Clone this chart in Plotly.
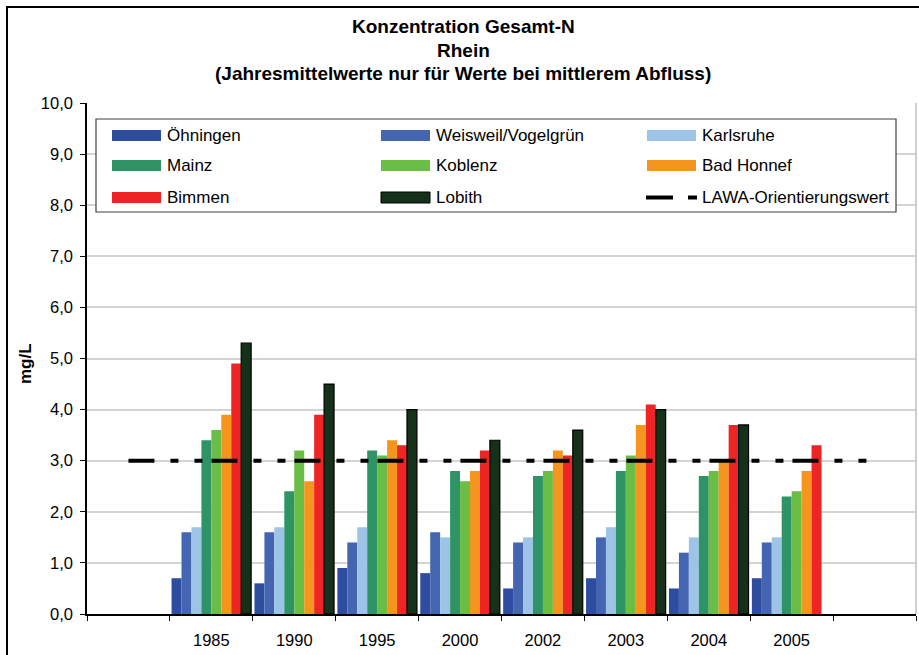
import plotly.graph_objects as go

categories = ["\u200b", "1985", "1990", "1995", "2000", "2002", "2003", "2004", "2005", "\u200b\u200b"]
years = ["1985", "1990", "1995", "2000", "2002", "2003", "2004", "2005"]

oehningen = [0.7, 0.6, 0.9, 0.8, 0.5, 0.7, 0.5, 0.7]
weisweil = [1.6, 1.6, 1.4, 1.6, 1.4, 1.5, 1.2, 1.4]
karlsruhe = [1.7, 1.7, 1.7, 1.5, 1.5, 1.7, 1.5, 1.5]
mainz = [3.4, 2.4, 3.2, 2.8, 2.7, 2.8, 2.7, 2.3]
koblenz = [3.6, 3.2, 3.1, 2.6, 2.8, 3.1, 2.8, 2.4]
bad_honnef = [3.9, 2.6, 3.4, 2.8, 3.2, 3.7, 3.0, 2.8]
bimmen = [4.9, 3.9, 3.3, 3.2, 3.1, 4.1, 3.7, 3.3]
lobith = [5.3, 4.5, 4.0, 3.4, 3.6, 4.0, 3.7, None]
lawa = [3.0] * len(categories)

series_names = ["Öhningen", "Weisweil/Vogelgrün", "Karlsruhe", "Mainz", "Koblenz",
                "Bad Honnef", "Bimmen", "Lobith"]
series_values = [oehningen, weisweil, karlsruhe, mainz, koblenz, bad_honnef, bimmen, lobith]
series_colors = ["#2E4DA0", "#4466B0", "#9DC3E6", "#2E9466", "#6ABD45",
                 "#F4961E", "#EE2524", "#15311A"]
lawa_name = "LAWA-Orientierungswert"

FONT = "Arial, Liberation Sans, sans-serif"
W, H = 919, 655
L, R, T, B = 87, 3, 103, 41
PW, PH = W - L - R, H - T - B


def px(x):
    return (x - L) / PW


def py(y):
    return (H - B - y) / PH


fig = go.Figure()
for name, vals, col in zip(series_names, series_values, series_colors):
    fig.add_trace(go.Bar(
        x=years, y=vals, name=name, marker_color=col,
        marker_line_color="#000000" if name == "Lobith" else col,
        marker_line_width=1.2 if name == "Lobith" else 0,
        showlegend=False,
    ))

fig.add_trace(go.Scatter(
    x=categories, y=lawa, mode="lines", name=lawa_name,
    line=dict(color="black", width=4, dash="26px,16px,8px,16px,8px,9px"),
    showlegend=False,
))

shapes = []
annotations = []

# outer frame
shapes.append(dict(type="rect", xref="paper", yref="paper",
                   x0=px(7), x1=px(940), y0=py(680), y1=py(7),
                   line=dict(color="black", width=2), fillcolor="rgba(0,0,0,0)", layer="above"))
# right plot border
shapes.append(dict(type="line", xref="paper", yref="paper", x0=1, x1=1, y0=0, y1=1,
                   line=dict(color="#BFBFBF", width=1.5)))

# legend box
shapes.append(dict(type="rect", xref="paper", yref="paper",
                   x0=px(96), x1=px(896), y0=py(212), y1=py(119),
                   line=dict(color="#404040", width=1.2), fillcolor="white", layer="above"))

col_sym_x = [112, 381, 647]
col_txt_x = [165, 434, 700]
row_y = [135.5, 165.5, 197.5]
legend_items = list(zip(series_names, series_colors)) + [(lawa_name, None)]
for i, (name, col) in enumerate(legend_items):
    r, c = divmod(i, 3)
    xs, yc = col_sym_x[c], row_y[r]
    if col is not None:
        shapes.append(dict(type="rect", xref="paper", yref="paper",
                           x0=px(xs), x1=px(xs + 49), y0=py(yc + 5.5), y1=py(yc - 5.5),
                           fillcolor=col,
                           line=dict(color="#000000" if name == "Lobith" else col,
                                     width=1 if name == "Lobith" else 0),
                           layer="above"))
    else:
        shapes.append(dict(type="line", xref="paper", yref="paper",
                           x0=px(xs - 1), x1=px(xs + 26), y0=py(yc), y1=py(yc),
                           line=dict(color="black", width=4), layer="above"))
        shapes.append(dict(type="line", xref="paper", yref="paper",
                           x0=px(xs + 41), x1=px(xs + 50), y0=py(yc), y1=py(yc),
                           line=dict(color="black", width=4), layer="above"))
    annotations.append(dict(text=name, xref="paper", yref="paper",
                            x=px(col_txt_x[c]), y=py(yc), xanchor="left", yanchor="middle",
                            showarrow=False, font=dict(family=FONT, size=17, color="black")))

# title lines
for txt, yy in [("Konzentration Gesamt-N", 26), ("Rhein", 50),
                ("(Jahresmittelwerte nur für Werte bei mittlerem Abfluss)", 73.5)]:
    annotations.append(dict(text="<b>" + txt + "</b>", xref="paper", yref="paper",
                            x=px(463), y=py(yy), xanchor="center", yanchor="middle",
                            showarrow=False, font=dict(family=FONT, size=19, color="black")))

# y axis title
annotations.append(dict(text="<b>mg/L</b>", xref="paper", yref="paper",
                        x=px(25), y=py(363), xanchor="center", yanchor="middle",
                        textangle=-90, showarrow=False,
                        font=dict(family=FONT, size=17, color="black")))

fig.update_layout(
    width=W, height=H,
    margin=dict(l=L, r=R, t=T, b=B, pad=0),
    paper_bgcolor="white", plot_bgcolor="white",
    barmode="group", bargap=0.04, bargroupgap=0,
    separators=",.",
    shapes=shapes, annotations=annotations,
    showlegend=False,
    font=dict(family=FONT, size=16.5, color="black"),
)
fig.update_xaxes(
    type="category", categoryorder="array", categoryarray=categories,
    range=[-0.5, len(categories) - 0.5],
    tickson="boundaries", ticks="outside", ticklen=5, tickcolor="black", tickwidth=1.2,
    showline=True, linecolor="black", linewidth=1.5,
    showgrid=False, ticklabelstandoff=10,
    tickfont=dict(family=FONT, size=16.5, color="black"),
)
fig.update_yaxes(
    range=[0, 10], dtick=1, tickformat=".1f",
    ticks="outside", ticklen=5, tickcolor="black", tickwidth=1.2,
    showline=True, linecolor="black", linewidth=1.5,
    showgrid=True, gridcolor="#D4D4D4", gridwidth=1.5,
    zeroline=False, ticklabelstandoff=4,
    tickfont=dict(family=FONT, size=16.5, color="black"),
)

fig.write_html("out.html", config={"displayModeBar": False},
               post_script="document.body.style.margin='0';document.body.style.overflow='hidden';")
